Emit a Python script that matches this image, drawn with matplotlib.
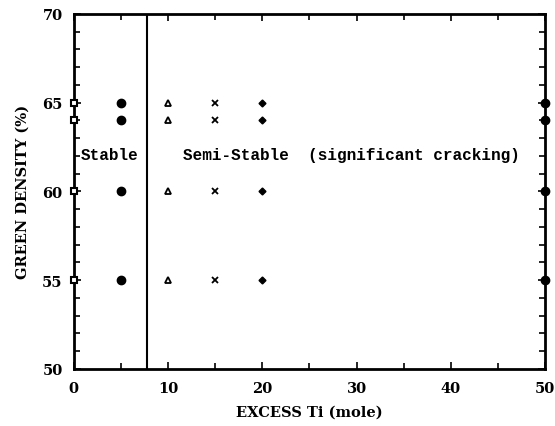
import matplotlib
matplotlib.use('Agg')
import matplotlib.pyplot as plt
from matplotlib.ticker import MultipleLocator

# green density levels tested (%)
densities = [65, 64, 60, 55]

# excess Ti (mole) for each symbol group
x_square = 0
x_circle = 5
x_triangle = 10
x_cross = 15
x_diamond = 20
x_circle_end = 50

# stable / semi-stable boundary
boundary = 7.8

fig = plt.figure(figsize=(5.55, 4.27), dpi=100)
ax = fig.add_axes([0.133, 0.134, 0.849, 0.831])

n = len(densities)
ax.plot([x_square] * n, densities, 's', mfc='white', mec='black', mew=1.5, ms=5, clip_on=False, zorder=5)
ax.plot([x_circle] * n, densities, 'o', color='black', ms=6, clip_on=False)
ax.plot([x_triangle] * n, densities, '^', mfc='white', mec='black', mew=1.3, ms=5)
ax.plot([x_cross] * n, densities, 'x', color='black', mew=1.3, ms=5)
ax.plot([x_diamond] * n, densities, 'D', color='black', ms=3.5)
ax.plot([x_circle_end] * n, densities, 'o', color='black', ms=6, clip_on=False, zorder=5)

ax.axvline(boundary, color='black', lw=1.5)

mono = dict(family='Liberation Mono', fontweight='bold', fontsize=11.5)
ax.text(3.8, 62.1, 'Stable', ha='center', va='center', **mono)
ax.text(29.5, 62.1, 'Semi-Stable  (significant cracking)', ha='center', va='center', **mono)

ax.set_xlim(0, 50)
ax.set_ylim(50, 70)
ax.xaxis.set_major_locator(MultipleLocator(10))
ax.xaxis.set_minor_locator(MultipleLocator(5))
ax.yaxis.set_major_locator(MultipleLocator(5))
ax.yaxis.set_minor_locator(MultipleLocator(1))
ax.tick_params(which='both', direction='in', top=True, right=True, width=1.2)
ax.tick_params(which='major', length=5)
ax.tick_params(which='minor', length=4)
ax.tick_params(axis='x', pad=9)
ax.tick_params(axis='y', pad=8)
for s in ax.spines.values():
    s.set_linewidth(2)

for lab in ax.get_xticklabels() + ax.get_yticklabels():
    lab.set_family('DejaVu Serif')
    lab.set_fontweight('bold')
    lab.set_fontsize(10.5)

ax.set_xlabel('EXCESS Ti (mole)', family='DejaVu Serif', fontweight='bold', fontsize=10.5, labelpad=7)
ax.set_ylabel('GREEN DENSITY (%)', family='DejaVu Serif', fontweight='bold', fontsize=10.5, labelpad=9)

fig.savefig('out.png', dpi=100)
